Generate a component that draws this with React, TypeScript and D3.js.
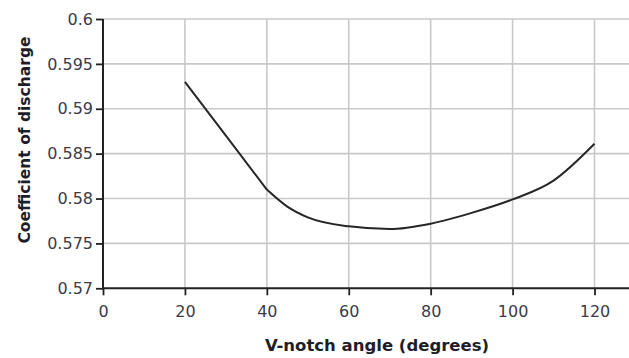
import React, { useEffect, useRef } from 'react'
import * as d3 from 'd3'

const angles = [20, 30, 40, 45, 50, 60, 70, 80, 90, 100, 110, 120]
const coefficients = [0.593, 0.587, 0.581, 0.5791, 0.5779, 0.5769, 0.5766, 0.5772, 0.5784, 0.5799, 0.582, 0.5861]
const xTicks = [0, 20, 40, 60, 80, 100, 120]
const yTicks = [0.57, 0.575, 0.58, 0.585, 0.59, 0.595, 0.6]

export default function App() {
  const ref = useRef<SVGSVGElement>(null)

  useEffect(() => {
    const width = 629
    const height = 358
    const margin = { top: 19, right: 0, bottom: 70, left: 103 }

    const svg = d3.select(ref.current)
    svg.selectAll('*').remove()

    const x = d3.scaleLinear()
      .domain([0, 120])
      .range([margin.left, 594.5])
    const y = d3.scaleLinear()
      .domain([0.57, 0.6])
      .range([height - margin.bottom + 0.3, margin.top])

    // grid
    const grid = svg.append('g').attr('stroke', '#c9c9cc').attr('stroke-width', 1.6)
    grid.selectAll('line.h')
      .data(yTicks.slice(1))
      .join('line')
      .attr('class', 'h')
      .attr('x1', margin.left)
      .attr('x2', width)
      .attr('y1', d => y(d))
      .attr('y2', d => y(d))
    grid.selectAll('line.v')
      .data(xTicks.slice(1))
      .join('line')
      .attr('class', 'v')
      .attr('x1', d => x(d))
      .attr('x2', d => x(d))
      .attr('y1', margin.top)
      .attr('y2', y(0.57))

    const styleAxis = (g: any) => {
      g.select('.domain').remove()
      g.selectAll('.tick line').attr('stroke', '#222').attr('stroke-width', 1.8)
      g.selectAll('.tick text')
        .attr('fill', '#3b3b4a')
        .attr('font-family', 'DejaVu Sans')
        .attr('font-size', 16)
    }

    svg.append('g')
      .attr('transform', `translate(${margin.left},0)`)
      .call(d3.axisLeft(y).tickValues(yTicks).tickSize(7).tickPadding(3).tickFormat(d => String(d)))
      .call(styleAxis)

    svg.append('g')
      .attr('transform', `translate(0,${y(0.57)})`)
      .call(d3.axisBottom(x).tickValues(xTicks).tickSize(7).tickPadding(10))
      .call(styleAxis)

    // axis lines
    svg.append('line')
      .attr('x1', margin.left).attr('x2', margin.left)
      .attr('y1', margin.top).attr('y2', y(0.57) + 1)
      .attr('stroke', '#222').attr('stroke-width', 2)
    svg.append('line')
      .attr('x1', margin.left - 1).attr('x2', width)
      .attr('y1', y(0.57)).attr('y2', y(0.57))
      .attr('stroke', '#222').attr('stroke-width', 2)

    const pts: [number, number][] = angles.map((a, i) => [a, coefficients[i]])
    const kink = angles.indexOf(40)

    // straight part up to 40 degrees, smooth curve after it
    const straight = d3.line<[number, number]>()
      .x(d => x(d[0]))
      .y(d => y(d[1]))
    const smooth = d3.line<[number, number]>()
      .x(d => x(d[0]))
      .y(d => y(d[1]))
      .curve(d3.curveMonotoneX)

    svg.append('path')
      .attr('fill', 'none')
      .attr('stroke', '#262626')
      .attr('stroke-width', 2)
      .attr('stroke-linejoin', 'round')
      .attr('d', (straight(pts.slice(0, kink + 1)) || '') + (smooth(pts.slice(kink)) || '').replace(/^M/, 'L'))

    svg.append('text')
      .attr('x', 377)
      .attr('y', 351)
      .attr('text-anchor', 'middle')
      .attr('font-family', 'DejaVu Sans')
      .attr('font-weight', 'bold')
      .attr('font-size', 16.5)
      .attr('fill', '#1e1e28')
      .text('V-notch angle (degrees)')

    svg.append('text')
      .attr('transform', 'translate(30,140) rotate(-90)')
      .attr('text-anchor', 'middle')
      .attr('font-family', 'DejaVu Sans')
      .attr('font-weight', 'bold')
      .attr('font-size', 15.5)
      .attr('fill', '#1e1e28')
      .text('Coefficient of discharge')
  }, [])

  return (
    <svg ref={ref} width={629} height={358}
      style={{ position: 'absolute', left: 0, top: 0, background: '#fff' }} />
  )
}
